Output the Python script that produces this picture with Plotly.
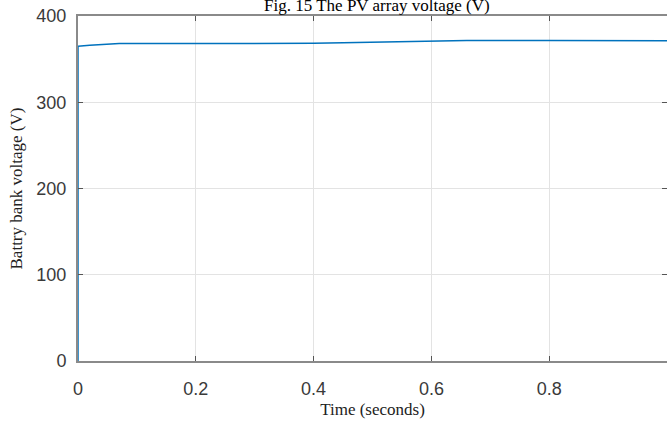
import plotly.graph_objects as go

time_s = [0, 0, 0.02, 0.05, 0.07, 0.2, 0.3, 0.4, 0.45, 0.5, 0.55, 0.6, 0.66, 0.8, 1.0]
voltage_v = [0, 365, 366, 367.5, 368, 368, 368, 368.3, 369, 369.7, 370.4, 371, 371.5, 371.5, 371.4]
x_ticks = [0, 0.2, 0.4, 0.6, 0.8, 1]
x_tick_labels = ["0", "0.2", "0.4", "0.6", "0.8", "1"]
y_ticks = [0, 100, 200, 300, 400]
y_tick_labels = ["0", "100", "200", "300", "400"]

fig = go.Figure()
fig.add_trace(go.Scatter(x=time_s, y=voltage_v, mode="lines",
                         line=dict(color="#0072BD", width=1.5), showlegend=False))

axis_common = dict(
    showline=True, linecolor="#8a8a8a", linewidth=2, mirror="ticks",
    ticks="inside", ticklen=5, tickcolor="#555555", tickwidth=1,
    showgrid=True, gridcolor="#e3e3e3", gridwidth=1, zeroline=False,
    automargin=False,
    tickfont=dict(family="Liberation Sans, Arial, sans-serif", size=18, color="#3a3a3a"),
)
serif = "Liberation Serif, Times New Roman, serif"

fig.update_layout(
    width=667, height=421,
    margin=dict(l=78, r=0, t=16, b=60),
    paper_bgcolor="white", plot_bgcolor="white",
    title=dict(text="Fig. 15 The PV array voltage (V)",
               font=dict(family=serif, size=17, color="black"),
               x=0.565, xanchor="center", yref="container", y=0.987, yanchor="middle"),
    xaxis=dict(range=[0, 1], tickvals=x_ticks, ticktext=x_tick_labels, ticklabelstandoff=10,
               title=dict(text="Time (seconds)", standoff=6,
                          font=dict(family=serif, size=17, color="#222222")),
               **axis_common),
    yaxis=dict(range=[0, 400], tickvals=y_ticks, ticktext=y_tick_labels, ticklabelstandoff=6,
               title=dict(text="Battry bank voltage (V)", standoff=9,
                          font=dict(family=serif, size=17, color="#222222")),
               **axis_common),
)

fig.write_html("out.html", config={"displayModeBar": False},
               post_script="document.body.style.margin='0px';")
